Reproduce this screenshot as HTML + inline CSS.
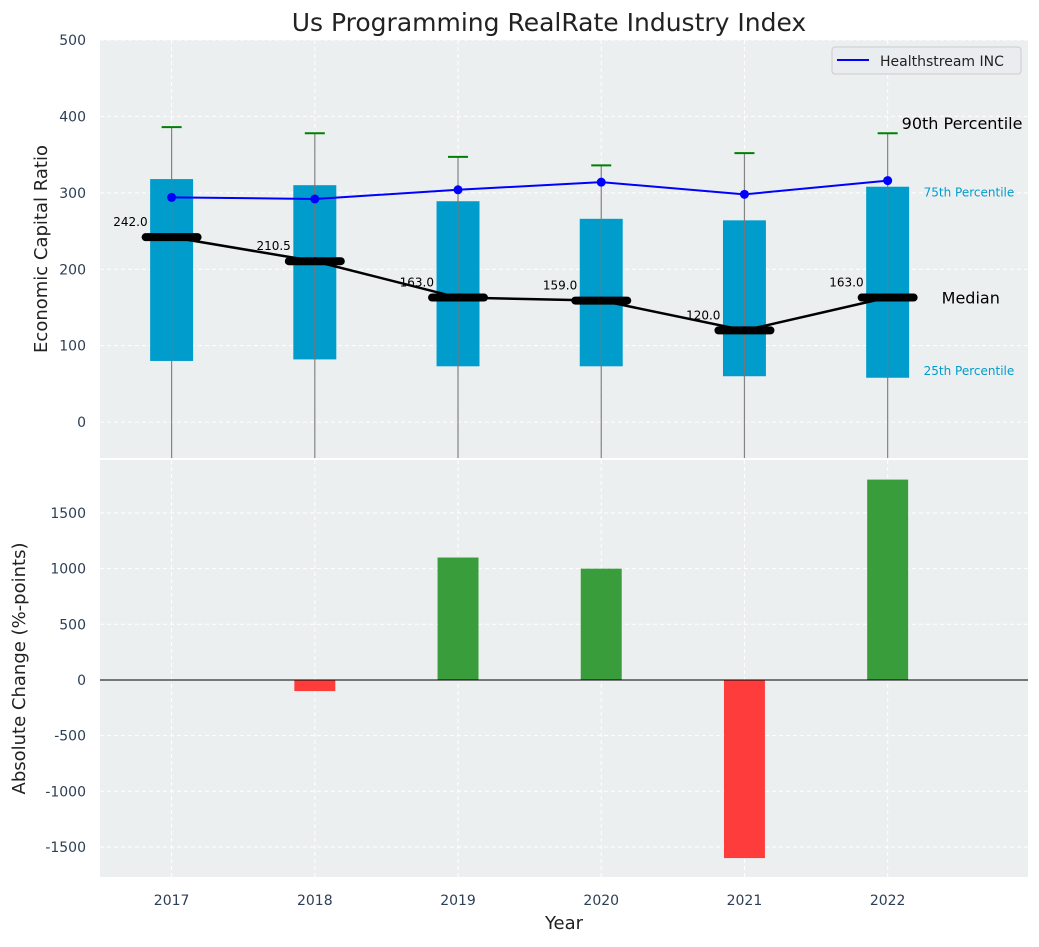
<!DOCTYPE html>
<html><head><meta charset="utf-8"><style>
body{margin:0;background:#fff;font-family:"Liberation Sans","DejaVu Sans",sans-serif}
svg text{font-family:"DejaVu Sans","Liberation Sans",sans-serif}
</style></head><body>
<svg id="c" width="1039" height="942" xmlns="http://www.w3.org/2000/svg"></svg>
<script>
const years=[2017,2018,2019,2020,2021,2022];
const p25=[80,82,73,73,60,58];
const p75=[318,310,289,266,264,308];
const p90=[386,378,347,336,352,378];
const medians=[242.0,210.5,163.0,159.0,120.0,163.0];
const company=[294,292,304,314,298,316];
const changes=[0,-100,1100,1000,-1600,1800];
const topTicks=[0,100,200,300,400,500];
const botTicks=[-1500,-1000,-500,0,500,1000,1500];

const NS="http://www.w3.org/2000/svg";
const svg=document.getElementById('c');
function el(t,a,p){const e=document.createElementNS(NS,t);for(const k in a)e.setAttribute(k,a[k]);(p||svg).appendChild(e);return e;}
const L=100,R=1028;
const X0=2016.5,X1=2022.98;
const x=v=>L+(v-X0)/(X1-X0)*(R-L);
const T1=40,B1=458,yT=v=>T1+(500-v)/(500+47)*(B1-T1);
const T2=460,B2=877,yB=v=>T2+(1976-v)/(1976+1770)*(B2-T2);

let t=el('text',{x:549,y:31,'text-anchor':'middle','font-size':25,fill:'#222'});t.textContent='Us Programming RealRate Industry Index';


let bg=el('rect',{x:L,y:T1,width:R-L,height:B1-T1,fill:'#ebeff0'});

bg=el('rect',{x:L,y:T2,width:R-L,height:B2-T2,fill:'#ebeff0'});


topTicks.forEach(v=>{el('line',{x1:L,x2:R,y1:yT(v),y2:yT(v),stroke:'#fff','stroke-dasharray':'4,3'});
 const tx=el('text',{x:L-14,y:yT(v)+5,'text-anchor':'end','font-size':14,fill:'#2d3f55'});tx.textContent=v;
 });
botTicks.forEach(v=>{el('line',{x1:L,x2:R,y1:yB(v),y2:yB(v),stroke:'#fff','stroke-dasharray':'4,3'});
 const tx=el('text',{x:L-14,y:yB(v)+5,'text-anchor':'end','font-size':14,fill:'#2d3f55'});tx.textContent=v;
 });
years.forEach(yr=>{el('line',{x1:x(yr),x2:x(yr),y1:T1,y2:B1,stroke:'#fff','stroke-dasharray':'4,3'});
 el('line',{x1:x(yr),x2:x(yr),y1:T2,y2:B2,stroke:'#fff','stroke-dasharray':'4,3'});
 const tx=el('text',{x:x(yr),y:905,'text-anchor':'middle','font-size':14,fill:'#2d3f55'});tx.textContent=yr;
 });

t=el('text',{x:0,y:0,'text-anchor':'middle','font-size':18,fill:'#222',transform:`translate(47,${(T1+B1)/2}) rotate(-90)`});t.textContent='Economic Capital Ratio';

t=el('text',{x:0,y:0,'text-anchor':'middle','font-size':18,fill:'#222',transform:`translate(25,${(T2+B2)/2}) rotate(-90)`});t.textContent='Absolute Change (%-points)';

t=el('text',{x:564,y:929,'text-anchor':'middle','font-size':18,fill:'#222'});t.textContent='Year';


const bw=0.3*(R-L)/(X1-X0);
years.forEach((yr,i)=>{
 const b=el('rect',{x:x(yr)-bw/2,y:yT(p75[i]),width:bw,height:yT(p25[i])-yT(p75[i]),fill:'#009ccc'});
 
 const w=el('line',{x1:x(yr),x2:x(yr),y1:yT(p90[i]),y2:B1,stroke:'#777','stroke-width':1.2,opacity:0.9});
 
 const c=el('line',{x1:x(yr)-10,x2:x(yr)+10,y1:yT(p90[i]),y2:yT(p90[i]),stroke:'green','stroke-width':2});
 
});
let pl=el('polyline',{points:years.map((yr,i)=>x(yr)+','+yT(medians[i])).join(' '),fill:'none',stroke:'#000','stroke-width':2.5});

years.forEach((yr,i)=>{
 const m=el('line',{x1:x(yr)-26,x2:x(yr)+26,y1:yT(medians[i]),y2:yT(medians[i]),stroke:'#000','stroke-width':8,'stroke-linecap':'round'});
 
 const tx=el('text',{x:x(yr)-24,y:yT(medians[i])-11,'text-anchor':'end','font-size':12,fill:'#000'});tx.textContent=medians[i].toFixed(1);
 
});
pl=el('polyline',{points:years.map((yr,i)=>x(yr)+','+yT(company[i])).join(' '),fill:'none',stroke:'#0000ff','stroke-width':2});

years.forEach((yr,i)=>{const d=el('circle',{cx:x(yr),cy:yT(company[i]),r:4.5,fill:'#0000ff'});
 });

const last=years.length-1,lx=x(years[last]);
t=el('text',{x:lx+14,y:yT(p90[last])-4,'font-size':16,fill:'#000'});t.textContent='90th Percentile';

t=el('text',{x:lx+36,y:yT(p75[last])+10,'font-size':12,fill:'#009ccc'});t.textContent='75th Percentile';

t=el('text',{x:lx+54,y:yT(medians[last])+6,'font-size':16,fill:'#000'});t.textContent='Median';

t=el('text',{x:lx+36,y:yT(p25[last])-3,'font-size':12,fill:'#009ccc'});t.textContent='25th Percentile';


const lg=el('g',{});
el('rect',{x:832,y:47,width:189,height:27,rx:3,fill:'#eaedf0',stroke:'#ccc'},lg);
el('line',{x1:837,x2:869,y1:60,y2:60,stroke:'#0000ff','stroke-width':2},lg);
t=el('text',{x:880,y:66,'font-size':14,fill:'#222'},lg);t.textContent='Healthstream INC';


years.forEach((yr,i)=>{const v=changes[i];if(v===0)return;
 const b=el('rect',{x:x(yr)-bw/2+1,y:Math.min(yB(v),yB(0)),width:bw-2,height:Math.abs(yB(v)-yB(0)),fill:v>0?'#3a9d3c':'#ff3c3c'});
 });
const z=el('line',{x1:L,x2:R,y1:yB(0),y2:yB(0),stroke:'#000','stroke-width':1});

</script>
</body></html>
